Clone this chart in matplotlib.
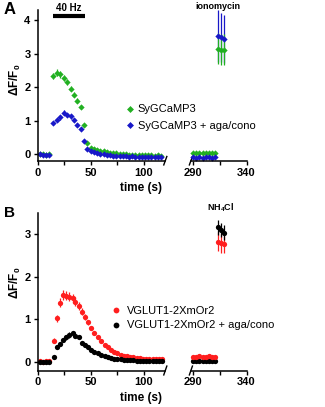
import matplotlib
matplotlib.use("Agg")
import matplotlib.pyplot as plt

plt.rcParams["font.family"] = ["Liberation Sans", "DejaVu Sans"]
plt.rcParams["mathtext.fontset"] = "custom"
plt.rcParams["mathtext.rm"] = "Liberation Sans:bold"

W, H = 325, 407

GREEN = "#22b022"
BLUE = "#1818c8"
RED = "#ff1e1e"
BLACK = "#000000"

# ---- panel A data (SyGCaMP3) ----
tA = [2, 5, 8, 11, 15, 18, 21, 25, 28, 31, 34.5, 37.5, 40.5, 43.5, 46.5,
      50, 53, 56, 59, 62, 65, 68, 71, 74, 77, 80, 83, 86, 89, 92, 95, 98,
      101, 104, 107, 110, 113, 116]
syg = [0.0, -0.01, -0.02, -0.01, 2.34, 2.43, 2.38, 2.28, 2.15, 1.95, 1.77,
       1.59, 1.39, 0.86, 0.33, 0.18, 0.15, 0.12, 0.10, 0.08, 0.06, 0.04,
       0.03, 0.02, 0.01, 0.0, -0.01, -0.02, -0.02, -0.03, -0.03, -0.04,
       -0.03, -0.04, -0.04, -0.05, -0.04, -0.05]
syg_err = [0.03, 0.03, 0.03, 0.03, 0.09, 0.1, 0.1, 0.09, 0.08, 0.08, 0.07,
           0.07, 0.06, 0.05, 0.04, 0.04, 0.03, 0.03, 0.03, 0.03, 0.03, 0.03,
           0.03, 0.03, 0.03, 0.03, 0.03, 0.03, 0.03, 0.03, 0.03, 0.03, 0.03,
           0.03, 0.03, 0.03, 0.03, 0.03]
syg_ac = [-0.01, -0.03, -0.02, -0.03, 0.93, 1.02, 1.10, 1.23, 1.16, 1.12,
          1.01, 0.87, 0.76, 0.38, 0.14, 0.10, 0.06, 0.03, 0.01, -0.01, -0.02,
          -0.04, -0.05, -0.05, -0.06, -0.07, -0.07, -0.08, -0.07, -0.08,
          -0.08, -0.09, -0.08, -0.08, -0.09, -0.08, -0.09, -0.08]
syg_ac_err = [0.03, 0.03, 0.03, 0.03, 0.06, 0.06, 0.07, 0.07, 0.06, 0.06,
              0.06, 0.05, 0.05, 0.04, 0.03, 0.03, 0.03, 0.03, 0.03, 0.03,
              0.03, 0.03, 0.03, 0.03, 0.03, 0.03, 0.03, 0.03, 0.03, 0.03,
              0.03, 0.03, 0.03, 0.03, 0.03, 0.03, 0.03, 0.03]

tA_late = [290, 293, 296, 299, 302, 305, 308, 311]
syg_late = [0.03, 0.02, 0.03, 0.02, 0.03, 0.02, 0.03, 0.02]
syg_ac_late = [-0.10, -0.11, -0.10, -0.11, -0.10, -0.10, -0.11, -0.10]

t_iono = [313, 316, 319]
syg_iono = [3.15, 3.12, 3.12]
syg_iono_err = [0.45, 0.45, 0.45]
syg_ac_iono = [3.53, 3.48, 3.44]
syg_ac_iono_err = [0.78, 0.74, 0.72]

# ---- panel B data (VGLUT1-2XmOr2) ----
tB = [2, 5, 8, 11, 15.5, 18.5, 21, 23.5, 26.5, 30, 33, 35.5, 38.5, 41.5,
      44.5, 47.5, 50.5, 53.5, 56.5, 59.5, 63, 66, 69, 72, 75, 78, 81, 84,
      87, 90, 93, 96, 99, 102, 105, 108, 111, 114, 117]
vg = [0.02, 0.01, 0.02, 0.02, 0.50, 1.02, 1.39, 1.57, 1.55, 1.53, 1.49,
      1.41, 1.31, 1.18, 1.06, 0.93, 0.79, 0.67, 0.58, 0.48, 0.40, 0.34,
      0.28, 0.24, 0.20, 0.17, 0.15, 0.13, 0.12, 0.11, 0.10, 0.09, 0.08,
      0.08, 0.07, 0.07, 0.06, 0.06, 0.06]
vg_err = [0.02, 0.02, 0.02, 0.02, 0.05, 0.08, 0.1, 0.11, 0.11, 0.11, 0.1,
          0.1, 0.09, 0.08, 0.07, 0.06, 0.05, 0.05, 0.04, 0.04, 0.03, 0.03,
          0.03, 0.03, 0.02, 0.02, 0.02, 0.02, 0.02, 0.02, 0.02, 0.02, 0.02,
          0.02, 0.02, 0.02, 0.02, 0.02, 0.02]
vg_ac = [0.0, 0.01, 0.0, 0.01, 0.11, 0.34, 0.42, 0.52, 0.58, 0.63, 0.67,
         0.61, 0.58, 0.45, 0.40, 0.34, 0.28, 0.24, 0.20, 0.16, 0.14, 0.12,
         0.10, 0.08, 0.07, 0.06, 0.05, 0.05, 0.04, 0.04, 0.03, 0.03, 0.03,
         0.02, 0.03, 0.02, 0.03, 0.02, 0.02]
vg_ac_err = [0.02, 0.02, 0.02, 0.02, 0.03, 0.04, 0.05, 0.05, 0.06, 0.06,
             0.06, 0.05, 0.05, 0.04, 0.04, 0.03, 0.03, 0.03, 0.02, 0.02,
             0.02, 0.02, 0.02, 0.02, 0.02, 0.02, 0.02, 0.02, 0.02, 0.02,
             0.02, 0.02, 0.02, 0.02, 0.02, 0.02, 0.02, 0.02, 0.02]

tB_late = [290, 293, 296, 299, 302, 305, 308, 311]
vg_late = [0.12, 0.12, 0.13, 0.12, 0.12, 0.13, 0.12, 0.12]
vg_ac_late = [0.03, 0.02, 0.03, 0.03, 0.02, 0.03, 0.03, 0.02]

t_nh4 = [313, 316, 319]
vg_nh4 = [2.82, 2.78, 2.76]
vg_nh4_err = [0.22, 0.22, 0.2]
vg_ac_nh4 = [3.15, 3.09, 3.03]
vg_ac_nh4_err = [0.17, 0.17, 0.17]

stim = (15, 45)  # 40 Hz train


def px_axes(x0, y_top, w, h):
    return fig.add_axes([x0 / W, 1 - (y_top + h) / H, w / W, h / H])


def style_axes(ax, left=True):
    for s in ["top", "right"]:
        ax.spines[s].set_visible(False)
    ax.spines["left"].set_visible(left)
    for s in ["left", "bottom"]:
        ax.spines[s].set_linewidth(1.1)
    ax.tick_params(direction="out", length=3, width=1.0, labelsize=8, pad=2)
    for lab in ax.get_xticklabels() + ax.get_yticklabels():
        lab.set_fontweight("bold")
    if not left:
        ax.tick_params(axis="y", left=False, labelleft=False)
    ax.patch.set_alpha(0)


def breaks(ax1, ax2):
    d, e = 0.012, 0.028
    ax1.plot([1 - d, 1 + d], [-e, e], transform=ax1.transAxes, color="k",
             lw=1.0, clip_on=False)
    d2 = d * ax1.get_position().width / ax2.get_position().width
    ax2.plot([-d2, d2], [-e, e], transform=ax2.transAxes, color="k",
             lw=1.0, clip_on=False)


def eb(ax, t, y, err, color, marker, ms):
    return ax.errorbar(t, y, yerr=err, fmt=marker, color=color, ms=ms,
                       mew=0, elinewidth=0.9, capsize=0, clip_on=False)


fig = plt.figure(figsize=(W / 100, H / 100), dpi=100)

# ---------------- panel A ----------------
axA1 = px_axes(37.5, 10, 127.8, 150.7)
axA2 = px_axes(190.9, 10, 55.6, 150.7)

gA = eb(axA1, tA, syg, syg_err, GREEN, "D", 3.2)
bA = eb(axA1, tA, syg_ac, syg_ac_err, BLUE, "D", 3.2)
eb(axA2, tA_late, syg_late, [0.03] * len(tA_late), GREEN, "D", 3.2)
eb(axA2, tA_late, syg_ac_late, [0.03] * len(tA_late), BLUE, "D", 3.2)
eb(axA2, t_iono, syg_ac_iono, syg_ac_iono_err, BLUE, "D", 3.2)
eb(axA2, t_iono, syg_iono, syg_iono_err, GREEN, "D", 3.2)

for ax in (axA1, axA2):
    ax.set_ylim(-0.2, 4.3)
axA1.set_xlim(0, 120)
axA2.set_xlim(288, 340)
axA1.set_yticks([0, 1, 2, 3, 4])
axA1.set_xticks([0, 25, 50, 75, 100])
axA1.set_xticklabels(["0", "", "50", "", "100"])
axA2.set_xticks([290, 315, 340])
axA2.set_xticklabels(["290", "", "340"])
style_axes(axA1)
style_axes(axA2, left=False)
breaks(axA1, axA2)

axA1.plot(stim, [4.12, 4.12], color="k", lw=3.0, solid_capstyle="butt",
          clip_on=False)
fig.text(69 / W, 1 - 8 / H, "40 Hz", ha="center", va="center",
         fontsize=7, fontweight="bold")
fig.text(218 / W, 1 - 6.5 / H, "ionomycin", ha="center", va="center",
         fontsize=6.5, fontweight="bold")

axA1.legend([gA[0], bA[0]], ["SyGCaMP3", "SyGCaMP3 + aga/cono"],
            loc="center left", bbox_to_anchor=(126.5 / W, 1 - 117.5 / H),
            bbox_transform=fig.transFigure, frameon=False, fontsize=8,
            handlelength=0.6, handletextpad=0.4, labelspacing=0.55,
            borderpad=0, borderaxespad=0, markerscale=1.1)

fig.text(4 / W, 1 - 9 / H, "A", fontsize=12, fontweight="bold", va="center")
fig.text(15 / W, 1 - 80 / H, "ΔF/F$_\\mathregular{0}$", rotation=90,
         fontsize=8.5, fontweight="bold", ha="center", va="center")
fig.text(141 / W, 1 - 188 / H, "time (s)", fontsize=8.5, fontweight="bold",
         ha="center", va="center")

# ---------------- panel B ----------------
axB1 = px_axes(37.5, 212.5, 127.8, 158)
axB2 = px_axes(190.9, 212.5, 55.6, 158)

rB = eb(axB1, tB, vg, vg_err, RED, "o", 3.8)
kB = eb(axB1, tB, vg_ac, vg_ac_err, BLACK, "o", 3.8)
eb(axB2, tB_late, vg_ac_late, [0.02] * len(tB_late), BLACK, "o", 3.8)
eb(axB2, tB_late, vg_late, [0.02] * len(tB_late), RED, "o", 3.8)
eb(axB2, t_nh4, vg_nh4, vg_nh4_err, RED, "o", 3.8)
eb(axB2, t_nh4, vg_ac_nh4, vg_ac_nh4_err, BLACK, "o", 3.8)

for ax in (axB1, axB2):
    ax.set_ylim(-0.2, 3.5)
axB1.set_xlim(0, 120)
axB2.set_xlim(288, 340)
axB1.set_yticks([0, 1, 2, 3])
axB1.set_xticks([0, 25, 50, 75, 100])
axB1.set_xticklabels(["0", "", "50", "", "100"])
axB2.set_xticks([290, 315, 340])
axB2.set_xticklabels(["290", "", "340"])
style_axes(axB1)
style_axes(axB2, left=False)
breaks(axB1, axB2)

fig.text(221 / W, 1 - 208 / H, "NH$_\\mathregular{4}$Cl", ha="center",
         va="center", fontsize=6.5, fontweight="bold")

axB1.legend([rB[0], kB[0]], ["VGLUT1-2XmOr2", "VGLUT1-2XmOr2 + aga/cono"],
            loc="center left", bbox_to_anchor=(113 / W, 1 - 318 / H),
            bbox_transform=fig.transFigure, frameon=False, fontsize=8,
            handlelength=0.6, handletextpad=0.7, labelspacing=0.45,
            borderpad=0, borderaxespad=0, markerscale=1.1)

fig.text(4 / W, 1 - 213 / H, "B", fontsize=11, fontweight="bold", va="center")
fig.text(15 / W, 1 - 283 / H, "ΔF/F$_\\mathregular{0}$", rotation=90,
         fontsize=8.5, fontweight="bold", ha="center", va="center")
fig.text(141 / W, 1 - 398 / H, "time (s)", fontsize=8.5, fontweight="bold",
         ha="center", va="center")

fig.savefig("out.png", dpi=100)
